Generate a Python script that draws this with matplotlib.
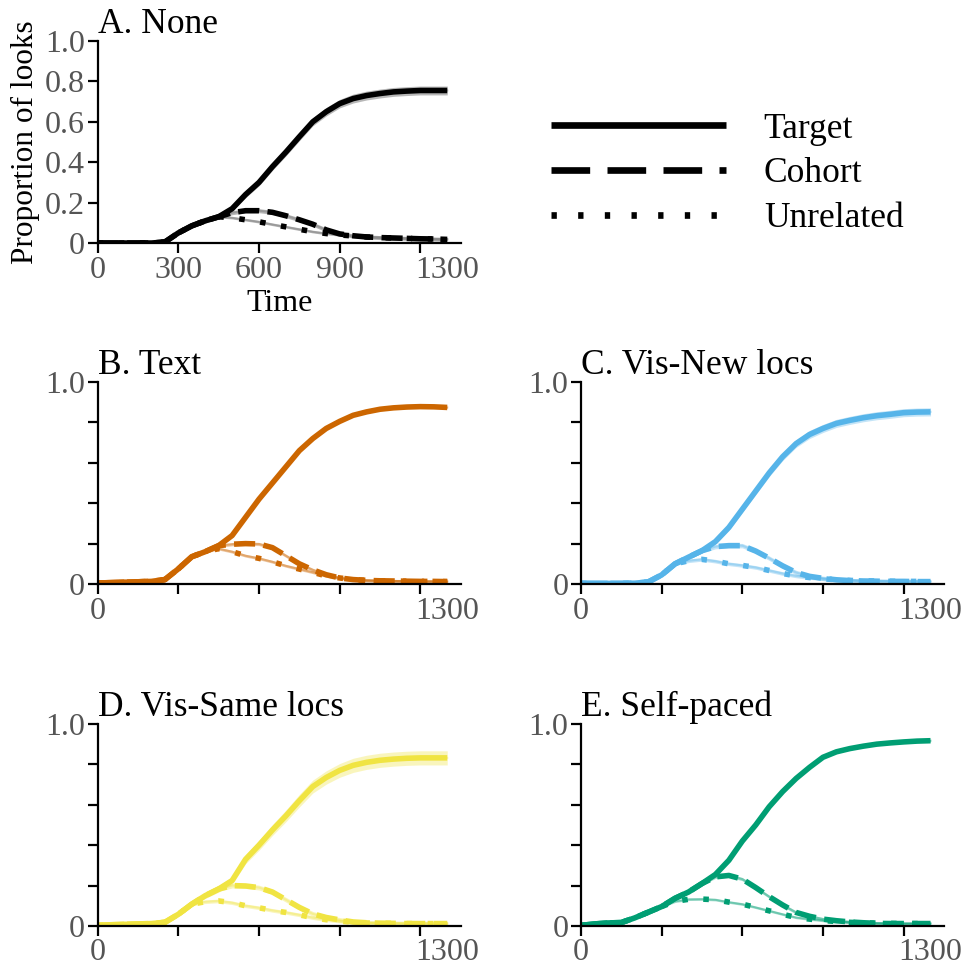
import numpy as np
import matplotlib.pyplot as plt
from matplotlib.lines import Line2D

plt.rcParams['font.family'] = ['Liberation Serif', 'DejaVu Serif']

# time bins (ms)
time_ms = [0, 50, 100, 150, 200, 250, 300, 350, 400, 450, 500, 550, 600, 650,
           700, 750, 800, 850, 900, 950, 1000, 1050, 1100, 1150, 1200, 1250, 1300]

# A. None
a_target = [0, 0, 0, 0, 0, 0.005, 0.05, 0.085, 0.11, 0.13, 0.17, 0.24, 0.30, 0.378,
            0.45, 0.526, 0.60, 0.65, 0.69, 0.715, 0.73, 0.74, 0.748, 0.752, 0.755, 0.755, 0.755]
a_cohort = [0, 0, 0, 0, 0, 0.005, 0.05, 0.085, 0.11, 0.13, 0.15, 0.16, 0.16, 0.152,
            0.135, 0.115, 0.093, 0.065, 0.045, 0.036, 0.03, 0.027, 0.025, 0.023, 0.021, 0.02, 0.018]
a_unrel = [0, 0, 0, 0, 0, 0.005, 0.05, 0.085, 0.11, 0.13, 0.125, 0.115, 0.105, 0.092,
           0.08, 0.068, 0.056, 0.047, 0.04, 0.035, 0.03, 0.027, 0.025, 0.023, 0.021, 0.02, 0.018]
a_target_ci = [0.001, 0.001, 0.001, 0.001, 0.001, 0.003, 0.007, 0.009, 0.011, 0.012, 0.014, 0.016, 0.017, 0.018,
               0.019, 0.02, 0.02, 0.021, 0.021, 0.022, 0.022, 0.022, 0.022, 0.022, 0.022, 0.022, 0.022]

# B. Text
b_target = [0.005, 0.007, 0.009, 0.011, 0.013, 0.022, 0.075, 0.135, 0.16, 0.19, 0.24, 0.33, 0.42, 0.50,
            0.58, 0.66, 0.72, 0.77, 0.805, 0.835, 0.852, 0.865, 0.872, 0.876, 0.878, 0.877, 0.874]
b_cohort = [0.005, 0.007, 0.009, 0.011, 0.013, 0.022, 0.075, 0.135, 0.16, 0.19, 0.197, 0.20, 0.198, 0.18,
            0.14, 0.10, 0.07, 0.046, 0.03, 0.022, 0.018, 0.016, 0.015, 0.014, 0.013, 0.013, 0.012]
b_unrel = [0.005, 0.007, 0.009, 0.011, 0.013, 0.022, 0.075, 0.135, 0.16, 0.175, 0.16, 0.14, 0.127, 0.11,
           0.09, 0.074, 0.058, 0.04, 0.03, 0.022, 0.018, 0.016, 0.015, 0.014, 0.013, 0.013, 0.012]
b_target_ci = [0.001, 0.001, 0.001, 0.001, 0.001, 0.002, 0.003, 0.004, 0.004, 0.005, 0.005, 0.005, 0.006, 0.006,
               0.006, 0.006, 0.006, 0.006, 0.006, 0.006, 0.006, 0.006, 0.006, 0.006, 0.006, 0.006, 0.006]

# C. Vis-New locs
c_target = [0.003, 0.003, 0.003, 0.003, 0.004, 0.01, 0.045, 0.10, 0.133, 0.165, 0.21, 0.28, 0.37, 0.46,
            0.55, 0.63, 0.695, 0.74, 0.77, 0.795, 0.81, 0.823, 0.833, 0.84, 0.848, 0.851, 0.852]
c_cohort = [0.003, 0.003, 0.003, 0.003, 0.004, 0.01, 0.045, 0.10, 0.133, 0.165, 0.185, 0.19, 0.19, 0.163,
            0.128, 0.09, 0.057, 0.038, 0.028, 0.021, 0.017, 0.015, 0.014, 0.013, 0.013, 0.012, 0.012]
c_unrel = [0.003, 0.003, 0.003, 0.003, 0.004, 0.01, 0.045, 0.10, 0.115, 0.122, 0.113, 0.10, 0.092, 0.082,
           0.067, 0.052, 0.04, 0.032, 0.026, 0.021, 0.018, 0.016, 0.015, 0.014, 0.013, 0.013, 0.012]
c_target_ci = [0.001, 0.001, 0.001, 0.001, 0.001, 0.003, 0.006, 0.008, 0.01, 0.011, 0.013, 0.015, 0.016, 0.017,
               0.018, 0.019, 0.019, 0.02, 0.02, 0.02, 0.02, 0.02, 0.02, 0.02, 0.02, 0.02, 0.02]

# D. Vis-Same locs
d_target = [0.003, 0.006, 0.008, 0.01, 0.012, 0.018, 0.058, 0.108, 0.15, 0.183, 0.225, 0.33, 0.40, 0.475,
            0.545, 0.62, 0.69, 0.735, 0.77, 0.795, 0.81, 0.82, 0.826, 0.83, 0.832, 0.832, 0.832]
d_cohort = [0.003, 0.006, 0.008, 0.01, 0.012, 0.018, 0.058, 0.108, 0.15, 0.183, 0.20, 0.198, 0.19, 0.168,
            0.13, 0.092, 0.06, 0.042, 0.03, 0.02, 0.016, 0.014, 0.013, 0.012, 0.012, 0.012, 0.012]
d_unrel = [0.003, 0.006, 0.008, 0.01, 0.012, 0.018, 0.058, 0.108, 0.12, 0.124, 0.115, 0.10, 0.09, 0.077,
           0.067, 0.055, 0.041, 0.031, 0.024, 0.018, 0.015, 0.014, 0.013, 0.012, 0.012, 0.012, 0.012]
d_target_ci = [0.002, 0.002, 0.002, 0.002, 0.002, 0.004, 0.008, 0.011, 0.014, 0.016, 0.019, 0.022, 0.025, 0.027,
               0.029, 0.031, 0.032, 0.033, 0.034, 0.035, 0.035, 0.035, 0.035, 0.035, 0.035, 0.035, 0.035]

# E. Self-paced
e_target = [0.003, 0.01, 0.015, 0.017, 0.04, 0.068, 0.096, 0.137, 0.168, 0.21, 0.255, 0.325, 0.42, 0.50,
            0.59, 0.665, 0.73, 0.785, 0.835, 0.862, 0.878, 0.89, 0.90, 0.906, 0.911, 0.915, 0.917]
e_cohort = [0.003, 0.01, 0.015, 0.017, 0.04, 0.068, 0.096, 0.137, 0.168, 0.21, 0.243, 0.25, 0.232, 0.19,
            0.145, 0.104, 0.067, 0.048, 0.034, 0.026, 0.02, 0.016, 0.013, 0.012, 0.012, 0.012, 0.012]
e_unrel = [0.003, 0.01, 0.015, 0.017, 0.04, 0.068, 0.096, 0.122, 0.132, 0.133, 0.13, 0.118, 0.108, 0.092,
           0.075, 0.058, 0.042, 0.034, 0.027, 0.022, 0.018, 0.016, 0.014, 0.013, 0.012, 0.012, 0.012]
e_target_ci = [0.001, 0.001, 0.001, 0.001, 0.002, 0.002, 0.003, 0.003, 0.004, 0.004, 0.005, 0.005, 0.005, 0.006,
               0.006, 0.006, 0.006, 0.006, 0.006, 0.006, 0.006, 0.006, 0.006, 0.006, 0.006, 0.006, 0.006]

# band half-widths for cohort and unrelated
a_comp_ci = [0.01, 0.006]
b_comp_ci = [0.008, 0.007]
c_comp_ci = [0.011, 0.009]
d_comp_ci = [0.012, 0.009]
e_comp_ci = [0.008, 0.006]

titles = ['A. None', 'B. Text', 'C. Vis-New locs', 'D. Vis-Same locs', 'E. Self-paced']
colors = ['black', '#CC6600', '#56B4E9', '#F0E442', '#009E73']
band_colors = ['#888888', '#CC6600', '#56B4E9', '#F0E442', '#009E73']
panels = [(a_target, a_cohort, a_unrel, a_target_ci, a_comp_ci),
          (b_target, b_cohort, b_unrel, b_target_ci, b_comp_ci),
          (c_target, c_cohort, c_unrel, c_target_ci, c_comp_ci),
          (d_target, d_cohort, d_unrel, d_target_ci, d_comp_ci),
          (e_target, e_cohort, e_unrel, e_target_ci, e_comp_ci)]

# axes positions in figure fraction
positions = [(0.1011, 0.7492), (0.1011, 0.3973), (0.6014, 0.3973), (0.1011, 0.0444), (0.6014, 0.0444)]
W, H = 0.3758, 0.2085

lw = 4.0
dash_cohort = (3.8, 1.5)
dash_unrel = (1.0, 2.8)

fig = plt.figure(figsize=(9.66, 9.69), dpi=100)
t = np.array(time_ms)

for i, (pos, (tg, co, un, tci, cci), title, col, bcol) in enumerate(zip(positions, panels, titles, colors, band_colors)):
    ax = fig.add_axes([pos[0], pos[1], W, H])
    band_alpha = 0.6 if i == 0 else 0.35
    for series, half in [(un, cci[1]), (co, cci[0]), (tg, np.array(tci))]:
        s = np.array(series)
        ax.fill_between(t, s - half, s + half, color=bcol, alpha=band_alpha, lw=0)
        ax.plot(t, s, color=bcol, alpha=band_alpha, lw=1.5)
    ax.plot(t, un, color=col, lw=lw, dashes=dash_unrel, dash_capstyle='butt')
    ax.plot(t, co, color=col, lw=lw, dashes=dash_cohort, dash_capstyle='butt')
    ax.plot(t, tg, color=col, lw=lw, solid_capstyle='butt', solid_joinstyle='round')

    ax.set_xlim(0, 1350)
    ax.set_ylim(0, 1.0)
    ax.spines['top'].set_visible(False)
    ax.spines['right'].set_visible(False)
    for sp in ['left', 'bottom']:
        ax.spines[sp].set_linewidth(1.6)
    ax.tick_params(direction='out', length=7, width=1.6, labelsize=23, labelcolor='#555555', pad=2)
    ax.set_yticks([0, 0.2, 0.4, 0.6, 0.8, 1.0])
    ax.set_xticks([0, 300, 600, 900, 1200, 1300])
    if i == 0:
        ax.set_yticklabels(['0', '0.2', '0.4', '0.6', '0.8', '1.0'])
        ax.set_xticklabels(['0', '300', '600', '900', '', '1300'])
        ax.set_xlabel('Time', fontsize=23, labelpad=3)
        ax.set_ylabel('Proportion of looks', fontsize=22.5, labelpad=4)
    else:
        ax.set_yticklabels(['0', '', '', '', '', '1.0'])
        ax.set_xticklabels(['0', '', '', '', '', '1300'])
    ax.xaxis.get_major_ticks()[-1].tick1line.set_visible(False)
    ax.set_title(title, loc='left', fontsize=25.5, pad=5)

handles = [Line2D([], [], color='black', lw=4.8, solid_capstyle='butt'),
           Line2D([], [], color='black', lw=4.8, dashes=(5.8, 2.6), dash_capstyle='butt'),
           Line2D([], [], color='black', lw=4.8, dashes=(0.8, 3.2), dash_capstyle='butt')]
fig.legend(handles, ['Target', 'Cohort', 'Unrelated'], loc='upper left',
           bbox_to_anchor=(0.552, 0.902), frameon=False, fontsize=25.5,
           handlelength=4.94, handletextpad=1.07, labelspacing=0.33, borderpad=0)

fig.savefig('out.png', dpi=100)
